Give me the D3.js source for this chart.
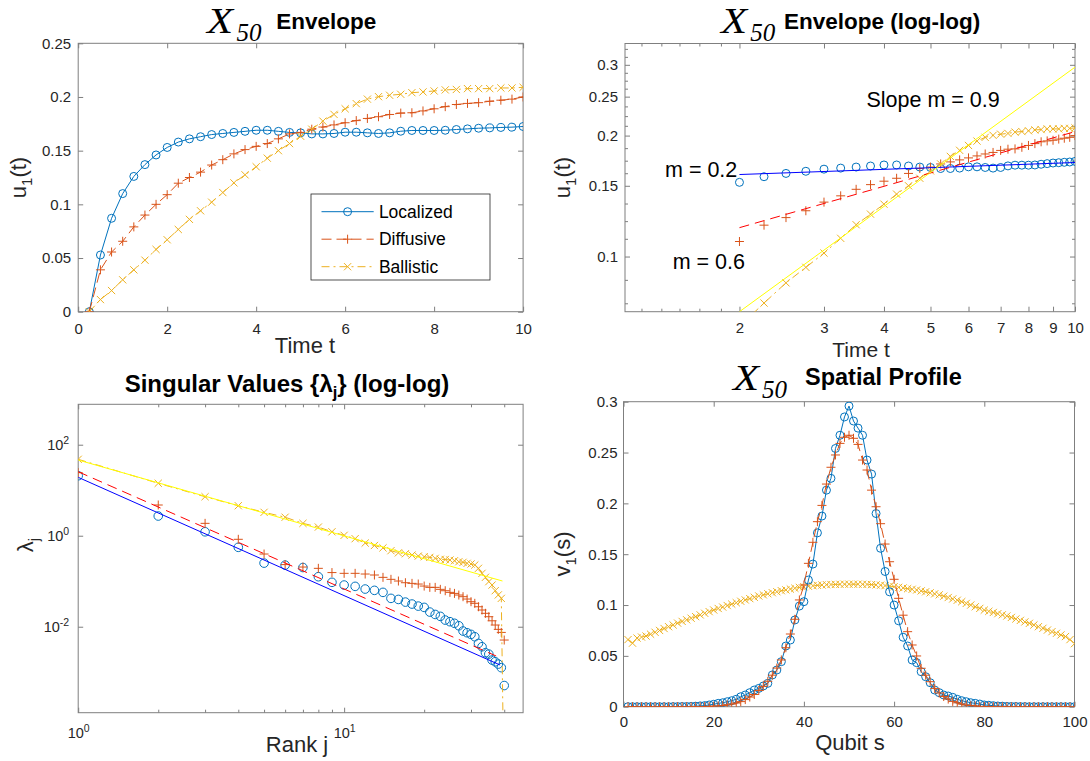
<!DOCTYPE html>
<html>
<head>
<meta charset="utf-8">
<script src="https://cdn.jsdelivr.net/npm/d3@7"></script>
<style>
  body { margin: 0; background: #fff; }
  svg { display: block; }
</style>
</head>
<body>
<script>
// ---------- data ----------
const seriesNames = ["Localized", "Diffusive", "Ballistic"];

// envelope u1(t)
const timeT = [0.25,0.5,0.75,1,1.25,1.5,1.75,2,2.25,2.5,2.75,3,3.25,3.5,3.75,4,4.25,4.5,4.75,5,
               5.25,5.5,5.75,6,6.25,6.5,6.75,7,7.25,7.5,7.75,8,8.25,8.5,8.75,9,9.25,9.5,9.75,10];
const envLocalized = [0,0.0528,0.087,0.110,0.126,0.137,0.146,0.153,0.158,0.161,0.163,0.165,0.166,0.167,0.168,0.169,0.169,0.168,0.167,0.1666,
                      0.1656,0.1656,0.166,0.1672,0.1672,0.1666,0.166,0.1666,0.1681,0.1688,0.1688,0.1688,0.169,0.1697,0.1703,0.1709,0.1712,0.1716,0.1719,0.1725];
const envDiffusive = [0,0.039,0.0556,0.0656,0.079,0.090,0.100,0.109,0.1197,0.125,0.130,0.1366,0.1416,0.147,0.151,0.154,0.1566,0.161,0.1656,0.167,
                      0.170,0.172,0.174,0.176,0.178,0.180,0.1816,0.1837,0.185,0.1853,0.187,0.189,0.191,0.193,0.194,0.1947,0.196,0.197,0.198,0.200];
const envBallistic = [0,0.0113,0.0197,0.0297,0.039,0.048,0.058,0.067,0.0766,0.086,0.094,0.102,0.111,0.120,0.1275,0.135,0.143,0.150,0.1566,0.1634,
                      0.170,0.1775,0.1838,0.189,0.1938,0.198,0.2003,0.2016,0.2025,0.204,0.2047,0.2056,0.2066,0.207,0.2078,0.2078,0.2078,0.2084,0.2084,0.209];

// power-law fits on the log-log envelope (start/end time, start/end value)
const envFitT = [2, 10];
const envFitLocalized = [0.16, 0.1714];
const envFitDiffusive = [0.118, 0.2046];
const envFitBallistic = [0.0729, 0.296];
const slopeNotes = ["Slope m = 0.9", "m = 0.2", "m = 0.6"];

// singular values lambda_j
const rankJ = [1,2,3,4,5,6,7,8,9,10,11,12,13,14,15,16,17,18,19,20,21,22,23,24,25,26,27,28,29,30,31,32,33,34,35,36,37,38,39,40];
const svLocalized = [20.8,2.71,1.22,0.556,0.25,0.226,0.2,0.1256,0.0946,0.0824,0.0771,0.0673,0.063,0.0569,0.042,0.0398,0.0348,0.0315,0.0284,0.0266,
                     0.021,0.0186,0.0169,0.014,0.0129,0.0119,0.0105,0.00804,0.00738,0.00679,0.00603,0.0043,0.00363,0.00268,0.0025,0.00185,0.0017,0.00151,0.00126,0.00051];
const svDiffusive = [24.3,4.73,1.87,0.834,0.396,0.232,0.205,0.192,0.155,0.149,0.149,0.144,0.137,0.1216,0.11,0.101,0.0927,0.0897,0.0867,0.0783,
                     0.0733,0.0733,0.0663,0.0618,0.0569,0.054,0.0497,0.0457,0.0406,0.0355,0.0327,0.0275,0.0233,0.0197,0.0166,0.0135,0.0109,0.00875,0.0075,0.0051];
const svBallistic = [47.8,14.2,7.2,4.56,3.27,2.55,1.87,1.55,1.22,1.02,0.86,0.69,0.61,0.54,0.469,0.42,0.402,0.376,0.357,0.345,
                     0.334,0.318,0.303,0.30,0.292,0.282,0.268,0.26,0.247,0.239,0.227,0.192,0.149,0.122,0.0977,0.0824,0.062,0.05,0.042,0.000001];
const svFitLocalizedJ = [1, 38.6], svFitLocalized = [19.2, 0.00144];
const svFitDiffusiveJ = [1, 37.3], svFitDiffusive = [25.5, 0.00227];
const svFitBallisticJ = [1, 39.4], svFitBallistic = [46.1, 0.101];

// spatial profile v1(s), qubits s = 1..100
const qubitS = d3.range(1, 101);
const profLocalized = [0,0,0,0,0,0,0,0,0,0,
  0.0001,0.0001,0.0002,0.0002,0.0003,0.0005,0.0008,0.0011,0.0017,0.0024,
  0.0033,0.0039,0.0049,0.0059,0.0073,0.0098,0.0115,0.0138,0.0164,0.018,
  0.0204,0.023,0.0312,0.0361,0.0443,0.0597,0.0656,0.0853,0.099,0.1033,
  0.1246,0.1403,0.171,0.1875,0.213,0.2246,0.254,0.267,0.285,0.2957,
  0.281,0.274,0.267,0.2426,0.2288,0.190,0.1558,0.133,0.113,0.100,
  0.0845,0.0683,0.0597,0.0459,0.0433,0.0344,0.0295,0.0236,0.0164,0.0138,
  0.0115,0.0105,0.0092,0.0073,0.0059,0.0049,0.0039,0.0033,0.0026,0.0017,
  0.0014,0.001,0.0007,0.0005,0.0003,0.0002,0.0002,0.0001,0.0001,0,
  0,0,0,0,0,0,0,0,0,0];
const profDiffusive = [0,0,0,0,0,0,0,0,0,0,
  0,0,0,0,0,0.0001,0.0001,0.0002,0.0003,0.0005,
  0.0008,0.0012,0.0018,0.0026,0.0036,0.005,0.007,0.0095,0.012,0.016,
  0.02,0.025,0.031,0.038,0.046,0.058,0.0715,0.086,0.105,0.1197,
  0.141,0.1617,0.182,0.198,0.219,0.2355,0.2476,0.259,0.265,0.267,
  0.264,0.258,0.2426,0.2328,0.213,0.1967,0.18,0.16,0.1426,0.1253,
  0.1066,0.09,0.0738,0.0607,0.0499,0.0378,0.031,0.0246,0.018,0.0135,
  0.01,0.0075,0.0052,0.0038,0.0026,0.0017,0.0011,0.0007,0.0004,0.0002,
  0.0001,0.0001,0,0,0,0,0,0,0,0,
  0,0,0,0,0,0,0,0,0,0];
const profBallistic = [0.066,0.0625,0.0675,0.0685,0.0695,0.0713,0.0732,0.075,0.0769,0.0787,
  0.0804,0.0822,0.0839,0.0855,0.087,0.0886,0.0903,0.0919,0.0935,0.0951,
  0.0966,0.098,0.0995,0.1009,0.1023,0.1037,0.105,0.1063,0.1076,0.1089,
  0.11,0.1111,0.1121,0.1131,0.1141,0.1149,0.1157,0.1165,0.1173,0.118,
  0.1185,0.119,0.1194,0.1197,0.12,0.1202,0.1203,0.1204,0.1205,0.1205,
  0.1205,0.1205,0.1204,0.1203,0.1201,0.1198,0.1195,0.1191,0.1186,0.118,
  0.1174,0.1168,0.1161,0.1155,0.1148,0.1139,0.113,0.112,0.111,0.11,
  0.1087,0.1074,0.106,0.1047,0.1033,0.1016,0.1,0.0983,0.0967,0.095,
  0.0938,0.0927,0.0915,0.0904,0.0892,0.0878,0.0863,0.0849,0.0834,0.082,
  0.0804,0.0787,0.0771,0.0754,0.0738,0.0722,0.0706,0.069,0.066,0.062];

// tick values
const envTicksX = [0,2,4,6,8,10];
const envTicksY = [0,0.05,0.1,0.15,0.2,0.25];
const logTicksX = [2,3,4,5,6,7,8,9,10];
const logMinorX = [1.25,1.375,1.5,1.65,1.83];
const logTicksY = [0.1,0.15,0.2,0.25,0.3];
const logMinorY = [0.0765,0.0875,0.1107,0.1225,0.1355,0.1612,0.1732,0.1861,0.2115,0.2236,0.2364,0.2617,0.2739,0.2866,0.314,0.3287];
const svTicksX = [1,10];
const svMinorX = [2,3,4,5,6,7,8,9,20,30,40];
const svTicksY = [0.01,1,100];
const profTicksX = [0,20,40,60,80,100];
const profTicksY = [0,0.05,0.1,0.15,0.2,0.25,0.3];

// ---------- styling / layout ----------
const W = 1090, H = 761;
const SANS = '"Liberation Sans", Arial, Helvetica, sans-serif';
const SERIF = '"Liberation Serif", "Times New Roman", serif';
const INK = "#262626", AXIS = "#7f7f7f";
const BLUE = "#0072BD", ORANGE = "#D95319", YELLOW = "#EDB120";
const FIT_BLUE = "#0000FF", FIT_RED = "#FF0000", FIT_YELLOW = "#FFFF00";
const TICK = 5, MINOR = 3, TICK_FONT = 15;

const boxes = {
  env:    {l: 78.2,  r: 523.1,  t: 43.3,  b: 311.7},
  envLog: {l: 625,   r: 1075,   t: 43.5,  b: 311.7},
  sv:     {l: 78.2,  r: 523.1,  t: 404.3, b: 712.7},
  prof:   {l: 623.5, r: 1074.5, t: 401.7, b: 706.7}
};

const svg = d3.select("body").append("svg").attr("width", W).attr("height", H);
const defs = svg.append("defs");
let clipCount = 0;
function clipFor(box) {
  const id = "plotclip" + (clipCount++);
  defs.append("clipPath").attr("id", id).append("rect")
    .attr("x", box.l).attr("y", box.t).attr("width", box.r - box.l).attr("height", box.b - box.t);
  return `url(#${id})`;
}

function styleAxis(a, fontSize) {
  a.select(".domain").remove();
  a.selectAll(".tick line").attr("stroke", AXIS).attr("stroke-width", 1);
  a.selectAll(".tick text").attr("fill", INK).style("font-family", SANS).style("font-size", fontSize + "px");
  return a;
}

// inward ticks on all four sides, MATLAB style box
function drawAxes(g, box, x, y, cfg) {
  const add = (gen, tr, vals, size, fmt, pad) =>
    styleAxis(g.append("g").attr("transform", tr)
      .call(gen.tickValues(vals).tickSize(size).tickPadding(pad || 0).tickFormat(fmt === undefined ? "" : fmt)), TICK_FONT);
  const out = {};
  out.bottom = add(d3.axisBottom(x), `translate(0,${box.b})`, cfg.xTicks, -TICK, cfg.xFmt, cfg.xPad);
  add(d3.axisTop(x), `translate(0,${box.t})`, cfg.xTicks, -TICK);
  out.left = add(d3.axisLeft(y), `translate(${box.l},0)`, cfg.yTicks, -TICK, cfg.yFmt, cfg.yPad);
  add(d3.axisRight(y), `translate(${box.r},0)`, cfg.yTicks, -TICK);
  if (cfg.xMinor) {
    add(d3.axisBottom(x), `translate(0,${box.b})`, cfg.xMinor, -MINOR);
    add(d3.axisTop(x), `translate(0,${box.t})`, cfg.xMinor, -MINOR);
  }
  if (cfg.yMinor) {
    add(d3.axisLeft(y), `translate(${box.l},0)`, cfg.yMinor, -MINOR);
    add(d3.axisRight(y), `translate(${box.r},0)`, cfg.yMinor, -MINOR);
  }
  g.append("rect").attr("x", box.l).attr("y", box.t)
    .attr("width", box.r - box.l).attr("height", box.b - box.t)
    .attr("fill", "none").attr("stroke", AXIS).attr("stroke-width", 1);
  return out;
}

const plusPath = "M-4.5,0H4.5M0,-4.5V4.5";
const crossPath = "M-3.6,-3.6L3.6,3.6M-3.6,3.6L3.6,-3.6";

function drawMarkers(g, pts, kind, color, r) {
  const sel = g.append("g").selectAll(null).data(pts).enter();
  if (kind === "o") {
    sel.append("circle").attr("cx", d => d[0]).attr("cy", d => d[1]).attr("r", r || 4)
      .attr("fill", "none").attr("stroke", color).attr("stroke-width", 1);
  } else {
    sel.append("path").attr("transform", d => `translate(${d[0]},${d[1]})`)
      .attr("d", kind === "+" ? plusPath : crossPath)
      .attr("fill", "none").attr("stroke", color).attr("stroke-width", 1);
  }
}

function drawLine(g, pts, color, dash, width) {
  g.append("path").attr("d", d3.line()(pts)).attr("fill", "none")
    .attr("stroke", color).attr("stroke-width", width || 1)
    .attr("stroke-dasharray", dash || null);
}

// title "X_50 <bold text>": wide italic serif X, subscript 50, then bold sans words
function drawX50Title(xStart, subX, textX, baseline, words, size) {
  svg.append("text").attr("transform", `translate(${xStart},${baseline}) scale(1.22,1)`).text("X")
    .attr("fill", "#000").style("font-family", SERIF).style("font-style", "italic").style("font-size", "35px");
  const t = svg.append("text").attr("fill", "#000");
  t.append("tspan").attr("x", subX).attr("y", baseline + 8.3).text("50")
    .style("font-family", SERIF).style("font-style", "italic").style("font-size", "25px");
  t.append("tspan").attr("x", textX).attr("y", baseline - 4.4).text(words)
    .style("font-family", SANS).style("font-weight", "bold").style("font-size", (size || 22.5) + "px");
}

// centred bold title with a subscript part
function drawTitle(cx, baseline, parts) {
  const t = svg.append("text").attr("x", cx).attr("y", baseline).attr("text-anchor", "middle").attr("fill", "#000")
    .style("font-family", SANS).style("font-weight", "bold");
  parts.forEach(p => {
    const s = t.append("tspan").text(p.text).style("font-size", (p.sub ? 16.5 : 24) + "px");
    if (p.dy) s.attr("dy", p.dy);
  });
}

function drawXLabel(cx, baseline, label, size) {
  svg.append("text").attr("x", cx).attr("y", baseline).attr("text-anchor", "middle")
    .attr("fill", INK).style("font-family", SANS).style("font-size", (size || 22) + "px").text(label);
}

// rotated y label: main, subscript, tail
function drawYLabel(x, cy, main, sub, tail) {
  const t = svg.append("text").attr("transform", `translate(${x},${cy}) rotate(-90)`)
    .attr("text-anchor", "middle").attr("fill", INK).style("font-family", SANS).style("font-size", "22px");
  t.append("tspan").text(main);
  t.append("tspan").text(sub).attr("dy", 6).style("font-size", "15px");
  if (tail) t.append("tspan").text(tail).attr("dy", -6);
}

function pairs(xs, ys) { return xs.map((v, i) => [v, ys[i]]); }

// ---------- panel 1 : envelope ----------
{
  const box = boxes.env;
  const x = d3.scaleLinear().domain([0, 10]).range([box.l, box.r]);
  const y = d3.scaleLinear().domain([0, 0.25]).range([box.b, box.t]);
  const g = svg.append("g");
  drawAxes(g, box, x, y, {xTicks: envTicksX, yTicks: envTicksY, xFmt: d3.format("d"),
    yFmt: d => d === 0 ? "0" : String(+d.toFixed(2)), xPad: 11.2, yPad: 7});
  const pg = g.append("g").attr("clip-path", clipFor(box));
  const P = ys => pairs(timeT, ys).map(d => [x(d[0]), y(d[1])]);
  drawLine(pg, P(envLocalized), BLUE);
  drawMarkers(pg, P(envLocalized), "o", BLUE, 4);
  drawLine(pg, P(envDiffusive), ORANGE, "10,5");
  drawMarkers(pg, P(envDiffusive), "+", ORANGE);
  drawLine(pg, P(envBallistic), YELLOW, "8,4,2,4");
  drawMarkers(pg, P(envBallistic), "x", YELLOW);

  // legend
  const lg = g.append("g");
  lg.append("rect").attr("x", 311).attr("y", 194).attr("width", 179).attr("height", 86)
    .attr("fill", "#fff").attr("stroke", INK).attr("stroke-width", 0.8);
  const styles = [[BLUE, null, "o"], [ORANGE, "10,5", "+"], [YELLOW, "8,4,2,4", "x"]];
  seriesNames.forEach((name, i) => {
    const ry = 211.7 + i * 27.5;
    drawLine(lg, [[321.5, ry], [373.7, ry]], styles[i][0], styles[i][1]);
    drawMarkers(lg, [[347.6, ry]], styles[i][2], styles[i][0], 4);
    lg.append("text").attr("x", 378.9).attr("y", ry + 6).text(name)
      .attr("fill", "#000").style("font-family", SANS).style("font-size", "17.5px");
  });

  drawX50Title(207, 236.4, 276.3, 33, "Envelope");
  drawXLabel(305, 353.3, "Time t");
  drawYLabel(26, 177.5, "u", "1", "(t)");
}

// ---------- panel 2 : envelope, log-log ----------
{
  const box = boxes.envLog;
  const x = d3.scaleLog().domain([1.155, 10]).range([box.l, box.r]);
  const y = d3.scaleLog().domain([0.0729, 0.339]).range([box.b, box.t]);
  const g = svg.append("g");
  drawAxes(g, box, x, y, {xTicks: logTicksX, yTicks: logTicksY, xMinor: logMinorX, yMinor: logMinorY,
    xFmt: d3.format("d"), yFmt: d => String(d), xPad: 10.6, yPad: 7});
  const pg = g.append("g").attr("clip-path", clipFor(box));
  const keep = timeT.map((t, i) => i).filter(i => timeT[i] >= 2);
  const P = ys => keep.map(i => [x(timeT[i]), y(ys[i])]);
  drawMarkers(pg, P(envLocalized), "o", BLUE, 4);
  drawMarkers(pg, P(envDiffusive), "+", ORANGE);
  drawLine(pg, P(envBallistic), YELLOW, "8,4,2,4");
  drawMarkers(pg, P(envBallistic), "x", YELLOW);
  const F = ys => envFitT.map((t, i) => [x(t), y(ys[i])]);
  drawLine(pg, F(envFitLocalized), FIT_BLUE);
  drawLine(pg, F(envFitDiffusive), FIT_RED, "10,6");
  drawLine(pg, F(envFitBallistic), FIT_YELLOW);

  const note = (txt, tx, ty) => g.append("text").attr("x", tx).attr("y", ty).text(txt)
    .attr("fill", "#000").style("font-family", SANS).style("font-size", "21.5px");
  note(slopeNotes[0], 866.5, 107);
  note(slopeNotes[1], 665, 176.7);
  note(slopeNotes[2], 672.7, 269.3);

  drawX50Title(721, 750.2, 784, 33, "Envelope (log-log)");
  drawXLabel(861, 356.8, "Time t", 21);
  drawYLabel(570, 177.5, "u", "1", "(t)");
}

// ---------- panel 3 : singular values, log-log ----------
{
  const box = boxes.sv;
  const x = d3.scaleLog().domain([1, 47.1]).range([box.l, box.r]);
  const y = d3.scaleLog().domain([1.29e-4, 773]).range([box.b, box.t]);
  const g = svg.append("g");
  const ax = drawAxes(g, box, x, y, {xTicks: svTicksX, yTicks: svTicksY, xMinor: svMinorX});
  const exp10 = d => Math.round(Math.log10(d));
  ax.bottom.selectAll(".tick").each(function(d) {
    const t = d3.select(this).append("text").attr("y", 25.6).attr("text-anchor", "middle")
      .attr("fill", INK).style("font-family", SANS).style("font-size", "14.5px");
    t.append("tspan").text("10");
    t.append("tspan").text(exp10(d)).attr("dy", -6).style("font-size", "10.5px");
  });
  ax.left.selectAll(".tick").each(function(d) {
    const t = d3.select(this).append("text").attr("x", -9).attr("y", 4.8).attr("text-anchor", "end")
      .attr("fill", INK).style("font-family", SANS).style("font-size", "14.5px");
    t.append("tspan").text("10");
    t.append("tspan").text(exp10(d)).attr("dy", -6).style("font-size", "10.5px");
  });
  const pg = g.append("g").attr("clip-path", clipFor(box));
  const P = ys => pairs(rankJ, ys).map(d => [x(d[0]), y(d[1])]);
  drawMarkers(pg, P(svLocalized), "o", BLUE, 4.3);
  drawMarkers(pg, P(svDiffusive), "+", ORANGE);
  drawLine(pg, P(svBallistic), YELLOW, "8,4,2,4");
  drawMarkers(pg, P(svBallistic), "x", YELLOW);
  const F = (js, vs) => js.map((j, i) => [x(j), y(vs[i])]);
  drawLine(pg, F(svFitLocalizedJ, svFitLocalized), FIT_BLUE);
  drawLine(pg, F(svFitDiffusiveJ, svFitDiffusive), FIT_RED, "10,6");
  drawLine(pg, F(svFitBallisticJ, svFitBallistic), FIT_YELLOW);

  drawTitle(287, 391.5, [{text: "Singular Values {λ"}, {text: "j", sub: true, dy: 6}, {text: "} (log-log)", dy: -6}]);
  drawXLabel(297, 751.7, "Rank j");
  drawYLabel(33, 545, "λ", "j", "");
}

// ---------- panel 4 : spatial profile ----------
{
  const box = boxes.prof;
  const x = d3.scaleLinear().domain([0, 100]).range([box.l, box.r]);
  const y = d3.scaleLinear().domain([0, 0.3]).range([box.b, box.t]);
  const g = svg.append("g");
  drawAxes(g, box, x, y, {xTicks: profTicksX, yTicks: profTicksY, xFmt: d3.format("d"),
    yFmt: d => d === 0 ? "0" : String(+d.toFixed(2)), xPad: 10, yPad: 6});
  const pg = g.append("g").attr("clip-path", clipFor(box));
  const P = ys => pairs(qubitS, ys).map(d => [x(d[0]), y(d[1])]);
  drawLine(pg, P(profBallistic), YELLOW, "8,4,2,4");
  drawMarkers(pg, P(profBallistic), "x", YELLOW);
  drawLine(pg, P(profLocalized), BLUE);
  drawMarkers(pg, P(profLocalized), "o", BLUE, 4);
  drawLine(pg, P(profDiffusive), ORANGE, "10,5");
  drawMarkers(pg, P(profDiffusive), "+", ORANGE);

  drawX50Title(733, 762, 805, 389.5, "Spatial Profile", 23.5);
  drawXLabel(850, 750, "Qubit s");
  drawYLabel(570, 554, "v", "1", "(s)");
}
</script>
</body>
</html>
